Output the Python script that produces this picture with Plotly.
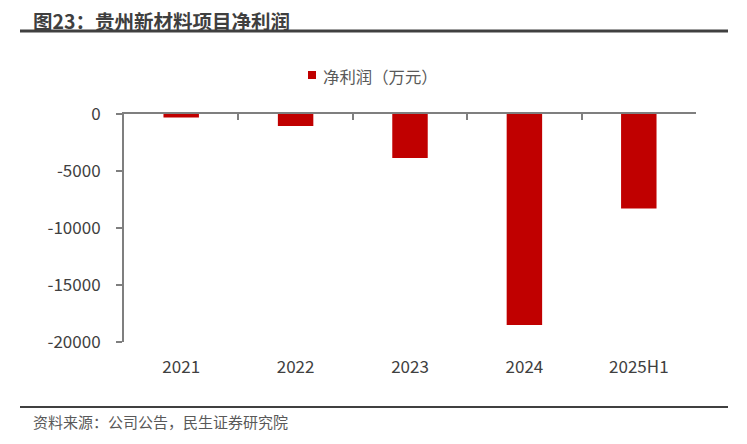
import plotly.graph_objects as go

categories = ["2021", "2022", "2023", "2024", "2025H1"]
net_profit = [-300, -1050, -3850, -18500, -8300]
series_name = "净利润（万元）"
y_ticks = [0, -5000, -10000, -15000, -20000]
y_tick_text = ["0", "-5000", "-10000", "-15000", "-20000"]

W, H = 747, 444
L, R, T, B = 124, 696, 114, 342


def py(yref_px):
    return (B - yref_px) / (B - T)


def px(xref_px):
    return (xref_px - L) / (R - L)


BAR_COLOR = "#C00000"

fig = go.Figure()
fig.add_trace(go.Bar(x=categories, y=net_profit, name=series_name,
                     marker=dict(color=BAR_COLOR, line=dict(width=0)),
                     width=0.31, showlegend=False))
fig.add_trace(go.Scatter(x=categories, y=[None] * len(categories), xaxis="x2",
                         showlegend=False, hoverinfo="skip", mode="markers"))

axis_col = "#7F7F7F"
fig.update_layout(
    width=W, height=H,
    margin=dict(l=L, r=W - R, t=T, b=H - B, autoexpand=False),
    paper_bgcolor="white", plot_bgcolor="white",
    font=dict(family="Noto Sans CJK SC", color="#595959", size=16),
    showlegend=False,
    xaxis=dict(showline=False, ticks="", showgrid=False, zeroline=False,
               tickfont=dict(size=17, color="#404040"), ticklabelstandoff=13),
    xaxis2=dict(overlaying="x", matches="x", side="top", showline=True,
                linecolor=axis_col, linewidth=2, ticks="inside",
                tickson="boundaries", ticklen=6, tickcolor=axis_col,
                tickwidth=1.5, showticklabels=False, showgrid=False),
    yaxis=dict(range=[-20000, 0], tickvals=y_ticks, ticktext=y_tick_text,
               showgrid=False, zeroline=False, showline=True, linecolor=axis_col,
               linewidth=2, ticks="outside", ticklen=6, tickcolor=axis_col,
               tickwidth=1.5, tickfont=dict(size=17, color="#404040"),
               ticklabelstandoff=12),
    shapes=[
        dict(type="line", xref="paper", yref="paper",
             x0=px(20), x1=px(728), y0=py(31), y1=py(31),
             line=dict(color="#404040", width=3)),
        dict(type="line", xref="paper", yref="paper",
             x0=px(20), x1=px(728), y0=py(407), y1=py(407),
             line=dict(color="#404040", width=2)),
        # legend swatch
        dict(type="rect", xref="paper", yref="paper",
             x0=px(308), x1=px(316), y0=py(71), y1=py(79),
             fillcolor=BAR_COLOR, line=dict(width=0)),
    ],
    annotations=[
        dict(text="<b>图23：贵州新材料项目净利润</b>", xref="paper", yref="paper",
             x=px(31), y=py(20), xanchor="left", yanchor="middle",
             showarrow=False,
             font=dict(size=19.5, color="#3F3F3F", family="Noto Sans CJK SC")),
        dict(text=series_name, xref="paper", yref="paper",
             x=px(321), y=py(75.5), xanchor="left", yanchor="middle",
             showarrow=False,
             font=dict(size=16.4, color="#595959", family="Noto Sans CJK SC")),
        dict(text="资料来源：公司公告，民生证券研究院", xref="paper", yref="paper",
             x=px(31), y=py(421), xanchor="left", yanchor="middle",
             showarrow=False,
             font=dict(size=15, color="#595959", family="Noto Sans CJK SC")),
    ],
)

fig.write_html("out.html", config={"displayModeBar": False},
               post_script="document.body.style.margin='0';document.body.style.overflow='hidden';")
